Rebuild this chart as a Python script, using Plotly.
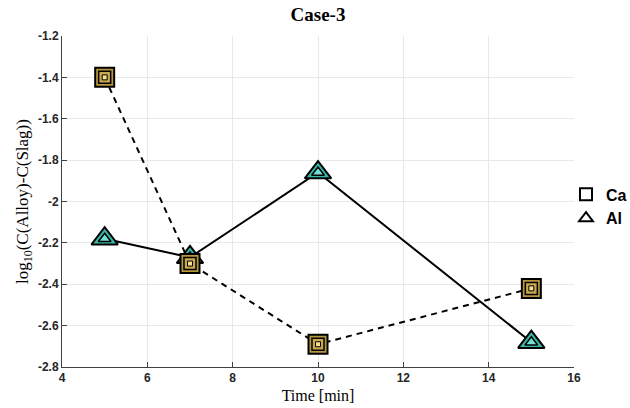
import plotly.graph_objects as go

time_min = [5, 7, 10, 15]
ca_vals = [-1.40, -2.30, -2.69, -2.42]
al_vals = [-2.18, -2.27, -1.86, -2.68]
x_ticks = [4, 6, 8, 10, 12, 14, 16]
y_ticks = [-2.8, -2.6, -2.4, -2.2, -2.0, -1.8, -1.6, -1.4, -1.2]
y_tick_labels = ["-2.8", "-2.6", "-2.4", "-2.2", "-2", "-1.8", "-1.6", "-1.4", "-1.2"]

L, R, T, B = 62, 574, 36, 367
W, H = 630, 408

fig = go.Figure()

# lines
fig.add_trace(go.Scatter(x=time_min, y=ca_vals, mode="lines",
                         line=dict(color="black", width=2, dash="6px,5px"),
                         showlegend=False, hoverinfo="skip"))
fig.add_trace(go.Scatter(x=time_min, y=al_vals, mode="lines",
                         line=dict(color="black", width=2),
                         showlegend=False, hoverinfo="skip"))

# Al triangles (layered)
fig.add_trace(go.Scatter(x=time_min, y=al_vals, mode="markers",
                         marker=dict(symbol="triangle-up", size=23, color="#38b8a8",
                                     line=dict(color="black", width=2)),
                         showlegend=False, cliponaxis=False))
fig.add_trace(go.Scatter(x=time_min, y=al_vals, mode="markers",
                         marker=dict(symbol="triangle-up", size=11, color="#70e0d2",
                                     line=dict(color="black", width=1.5)),
                         showlegend=False, cliponaxis=False))

# Ca squares (layered)
fig.add_trace(go.Scatter(x=time_min, y=ca_vals, mode="markers",
                         marker=dict(symbol="square", size=19, color="#b8963e",
                                     line=dict(color="black", width=2)),
                         showlegend=False, cliponaxis=False))
fig.add_trace(go.Scatter(x=time_min, y=ca_vals, mode="markers",
                         marker=dict(symbol="square", size=12, color="#c8a850",
                                     line=dict(color="black", width=1.5)),
                         showlegend=False, cliponaxis=False))
fig.add_trace(go.Scatter(x=time_min, y=ca_vals, mode="markers",
                         marker=dict(symbol="square", size=5, color="#f6e08c",
                                     line=dict(color="black", width=1)),
                         showlegend=False, cliponaxis=False))

# legend entries
fig.add_trace(go.Scatter(x=[None], y=[None], mode="markers", name="Ca",
                         marker=dict(symbol="square", size=11, color="white",
                                     line=dict(color="black", width=3))))
fig.add_trace(go.Scatter(x=[None], y=[None], mode="markers", name="Al",
                         marker=dict(symbol="triangle-up", size=13, color="white",
                                     line=dict(color="black", width=3))))

axis_common = dict(showline=True, linecolor="#404040", linewidth=1,
                   ticks="inside", ticklen=5, tickcolor="#404040",
                   showgrid=True, gridcolor="#e8e8e8", gridwidth=1,
                   zeroline=False, mirror=False,
                   tickfont=dict(family="Liberation Sans, Arial", size=12, color="#262626",
                                 weight="bold"))

fig.update_layout(
    width=W, height=H,
    margin=dict(l=L, r=W - R, t=T, b=H - B, autoexpand=False),
    paper_bgcolor="white", plot_bgcolor="white",
    title=dict(text="<b>Case-3</b>", x=(L + R) / 2 / W, xanchor="center", y=1 - 14 / H, yanchor="middle",
               font=dict(family="Liberation Serif, serif", size=19, color="black")),
    xaxis=dict(range=[4, 16], tickvals=x_ticks, ticktext=[str(v) for v in x_ticks],
               title=dict(text="Time [min]", standoff=5,
                          font=dict(family="Liberation Serif, serif", size=16, color="black")),
               **axis_common),
    yaxis=dict(range=[-2.8, -1.2], tickvals=y_ticks, ticktext=y_tick_labels,
               title=dict(text="log<sub>10</sub>(C(Alloy)-C(Slag))", standoff=4,
                          font=dict(family="Liberation Serif, serif", size=17, color="black")),
               **axis_common),
    legend=dict(x=(566 - L) / (R - L), xanchor="left", y=0.485, yanchor="middle",
                bgcolor="rgba(0,0,0,0)", tracegroupgap=0,
                font=dict(family="Liberation Sans, Arial", size=16, color="black", weight="bold"),
                itemsizing="constant"),
)

fig.write_html("out.html")
